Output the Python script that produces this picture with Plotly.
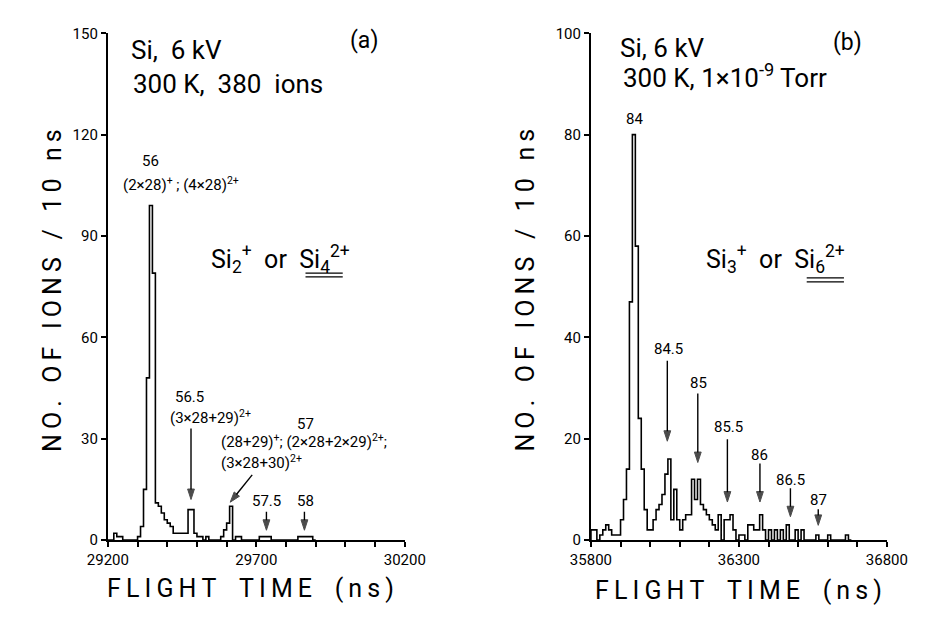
import plotly.graph_objects as go

# ---------------- data ----------------
left_bin_start = 29200
left_bin_width = 10
left_counts = [0, 0, 2, 1, 1, 0, 0, 0, 0, 0,
               1, 4, 15, 48, 99, 79, 11, 10, 8, 6,
               5, 4, 2, 2, 2, 2, 2, 9, 9, 2,
               1, 1, 0, 1, 0, 0, 0, 0, 1, 3,
               5, 10, 0, 1, 1, 0, 0, 0, 0, 0,
               0, 1, 1, 1, 1, 0, 0, 0, 0, 0,
               0, 0, 0, 0, 1, 1, 1, 1, 1, 0]

right_bin_start = 35800
right_bin_width = 10
right_counts = [2, 2, 0, 1, 2, 3, 2, 1, 1, 1,
                4, 8, 14, 47, 80, 58, 24, 14, 6, 2,
                2, 4, 6, 7, 9, 13, 16, 4, 10, 4,
                2, 4, 5, 5, 12, 8, 12, 7, 6, 5,
                4, 3, 2, 5, 0, 4, 4, 5, 2, 0,
                1, 1, 0, 3, 3, 2, 2, 5, 2, 0,
                2, 0, 2, 0, 2, 0, 3, 0, 0, 2,
                0, 2, 0, 0, 0, 0, 1, 0, 0, 0,
                1, 0, 0, 0, 0, 0, 1, 0]

left_xticks = [29200, 29700, 30200]
left_xlabels = ["29200", "29700", "30200"]
left_xminor = [29300, 29400, 29500, 29600, 29800, 29900, 30000, 30100]
left_yticks = [0, 30, 60, 90, 120, 150]
left_ylabels = ["0", "30", "60", "90", "120", "150"]
right_xticks = [35800, 36300, 36800]
right_xlabels = ["35800", "36300", "36800"]
right_xminor = [35900, 36000, 36100, 36200, 36400, 36500, 36600, 36700]
right_yticks = [0, 20, 40, 60, 80, 100]
right_ylabels = ["0", "20", "40", "60", "80", "100"]

# arrows: (tail x, tail y, tip x, tip y) in data units
left_arrows = [(29480, 33, 29480, 12), (29686, 19.3, 29612, 11.2),
               (29734, 8.4, 29734, 2.9), (29862, 8.4, 29862, 2.9)]
right_arrows = [(36058, 35.4, 36058, 19.5), (36161, 28.9, 36161, 15.3),
                (36261, 19.9, 36261, 7.5), (36371, 15.1, 36371, 7.5),
                (36474, 10.2, 36474, 4.6), (36568, 6.1, 36568, 2.9)]

# ---------------- figure ----------------
W, H = 927, 617
FONT = "Roboto, DejaVu Sans, sans-serif"


def step_xy(start, width, counts):
    n = len(counts)
    edges = [start + i * width for i in range(n + 1)]
    xs = [edges[0]] + edges[:n] + [edges[n]]
    ys = [0] + list(counts) + [0]
    return xs, ys


fig = go.Figure()
lx, ly = step_xy(left_bin_start, left_bin_width, left_counts)
rx, ry = step_xy(right_bin_start, right_bin_width, right_counts)
fig.add_trace(go.Scatter(x=lx, y=ly, mode="lines", line=dict(shape="hv", color="black", width=1.6),
                         xaxis="x", yaxis="y", showlegend=False, hoverinfo="skip"))
fig.add_trace(go.Scatter(x=rx, y=ry, mode="lines", line=dict(shape="hv", color="black", width=1.6),
                         xaxis="x2", yaxis="y2", showlegend=False, hoverinfo="skip"))


def add_arrows(arrows, xa, ya):
    for (x0, y0, x1, y1) in arrows:
        fig.add_trace(go.Scatter(
            x=[x0, x1], y=[y0, y1], mode="lines+markers", xaxis=xa, yaxis=ya,
            line=dict(color="black", width=1.4),
            marker=dict(symbol="arrow", size=[0, 11], angleref="previous", color="black",
                        line=dict(width=1, color="black")),
            showlegend=False, hoverinfo="skip", cliponaxis=False))


add_arrows(left_arrows, "x", "y")
add_arrows(right_arrows, "x2", "y2")


def px(x):
    return x / W


def py(y):
    return 1 - y / H


ydom = [py(547), py(25)]
axis_common = dict(showgrid=False, zeroline=False, showline=True, linecolor="black", linewidth=2,
                   ticks="outside", ticklen=5, tickwidth=1.5, tickcolor="black",
                   tickfont=dict(family=FONT, size=15, color="black"), fixedrange=True)
minor_common = dict(ticks="outside", ticklen=5, tickwidth=1.5, tickcolor="black", showgrid=False)

fig.update_layout(
    width=W, height=H, margin=dict(l=0, r=0, t=0, b=0),
    paper_bgcolor="white", plot_bgcolor="white", showlegend=False,
    xaxis=dict(domain=[px(91), px(402)], range=[29200, 30200], anchor="y",
               tickmode="array", tickvals=left_xticks, ticktext=left_xlabels,
               minor=dict(tickmode="array", tickvals=left_xminor, **minor_common), **axis_common),
    yaxis=dict(domain=ydom, range=[0, 150], anchor="x",
               tickmode="array", tickvals=left_yticks, ticktext=left_ylabels, **axis_common),
    xaxis2=dict(domain=[px(597), px(907)], range=[35800, 36800], anchor="y2",
                tickmode="array", tickvals=right_xticks, ticktext=right_xlabels,
                minor=dict(tickmode="array", tickvals=right_xminor, **minor_common), **axis_common),
    yaxis2=dict(domain=ydom, range=[0, 100], anchor="x2",
                tickmode="array", tickvals=right_yticks, ticktext=right_ylabels, **axis_common),
)

ann = []


def text(t, x, y, size=15, anchor="center", angle=0):
    ann.append(dict(text=t, x=px(x), y=py(y), xref="paper", yref="paper", showarrow=False,
                    xanchor=anchor, yanchor="middle", textangle=angle,
                    font=dict(family=FONT, size=size, color="black")))


TS = "\u2009"
NB = "\u00a0"


def spaced(s, gap):
    words = s.split(" ")
    return gap.join(TS.join(list(w)) for w in words)


xtitle = spaced("FLIGHT TIME (ns)", TS + NB * 2 + TS)
ytitle = spaced("NO. OF IONS / 10 ns", TS + NB * 2)
text(xtitle, 240, 597, 25)
text(xtitle, 752, 599, 25)
text(ytitle, 33, 290, 25, angle=-90)
text(ytitle, 529, 290, 25, angle=-90)

# left panel texts
text("Si,  6 kV", 113, 42, 26, "left")
text("300 K,  380  ions", 115, 77, 26, "left")
text("(a)", 359, 32, 23)
text("56", 136, 157, 15)
text("(2×28)<sup>+</sup> ; (4×28)<sup>2+</sup>", 168, 180, 15)
text("Si<sub>2</sub><sup>+</sup>  or  Si<sub>4</sub><sup>2+</sup>", 272, 257, 25)
text("56.5", 177, 400, 15)
text("(3×28+29)<sup>2+</sup>", 198, 420, 15)
text("57", 298, 427, 15)
text("(28+29)<sup>+</sup>; (2×28+2×29)<sup>2+</sup>;", 207, 445, 15, "left")
text("(3×28+30)<sup>2+</sup>", 207, 467, 15, "left")
text("57.5", 257, 507, 15)
text("58", 298, 507, 15)

# right panel texts
text("Si, 6 kV", 625, 40, 26, "left")
text("300 K, 1×10<sup>-9</sup> Torr", 628, 69, 26, "left")
text("(b)", 866, 35, 23)
text("84", 643, 113, 15)
text("Si<sub>3</sub><sup>+</sup>  or  Si<sub>6</sub><sup>2+</sup>", 790, 257, 25)
right_label_pos = {"84.5": (678, 350), "85": (710, 385), "85.5": (741, 431),
                   "86": (774, 459), "86.5": (806, 485), "87": (835, 506)}
for lab, (tx, ty) in right_label_pos.items():
    text(lab, tx, ty, 15)

fig.update_layout(annotations=ann)

# double underlines
shapes = []
for (x0, x1, y) in [(298, 337, 272), (298, 337, 276), (823, 862, 277), (823, 862, 281)]:
    shapes.append(dict(type="line", xref="paper", yref="paper", x0=px(x0), x1=px(x1), y0=py(y), y1=py(y),
                       line=dict(color="black", width=1.3)))
fig.update_layout(shapes=shapes)

fig.write_html("out.html")
